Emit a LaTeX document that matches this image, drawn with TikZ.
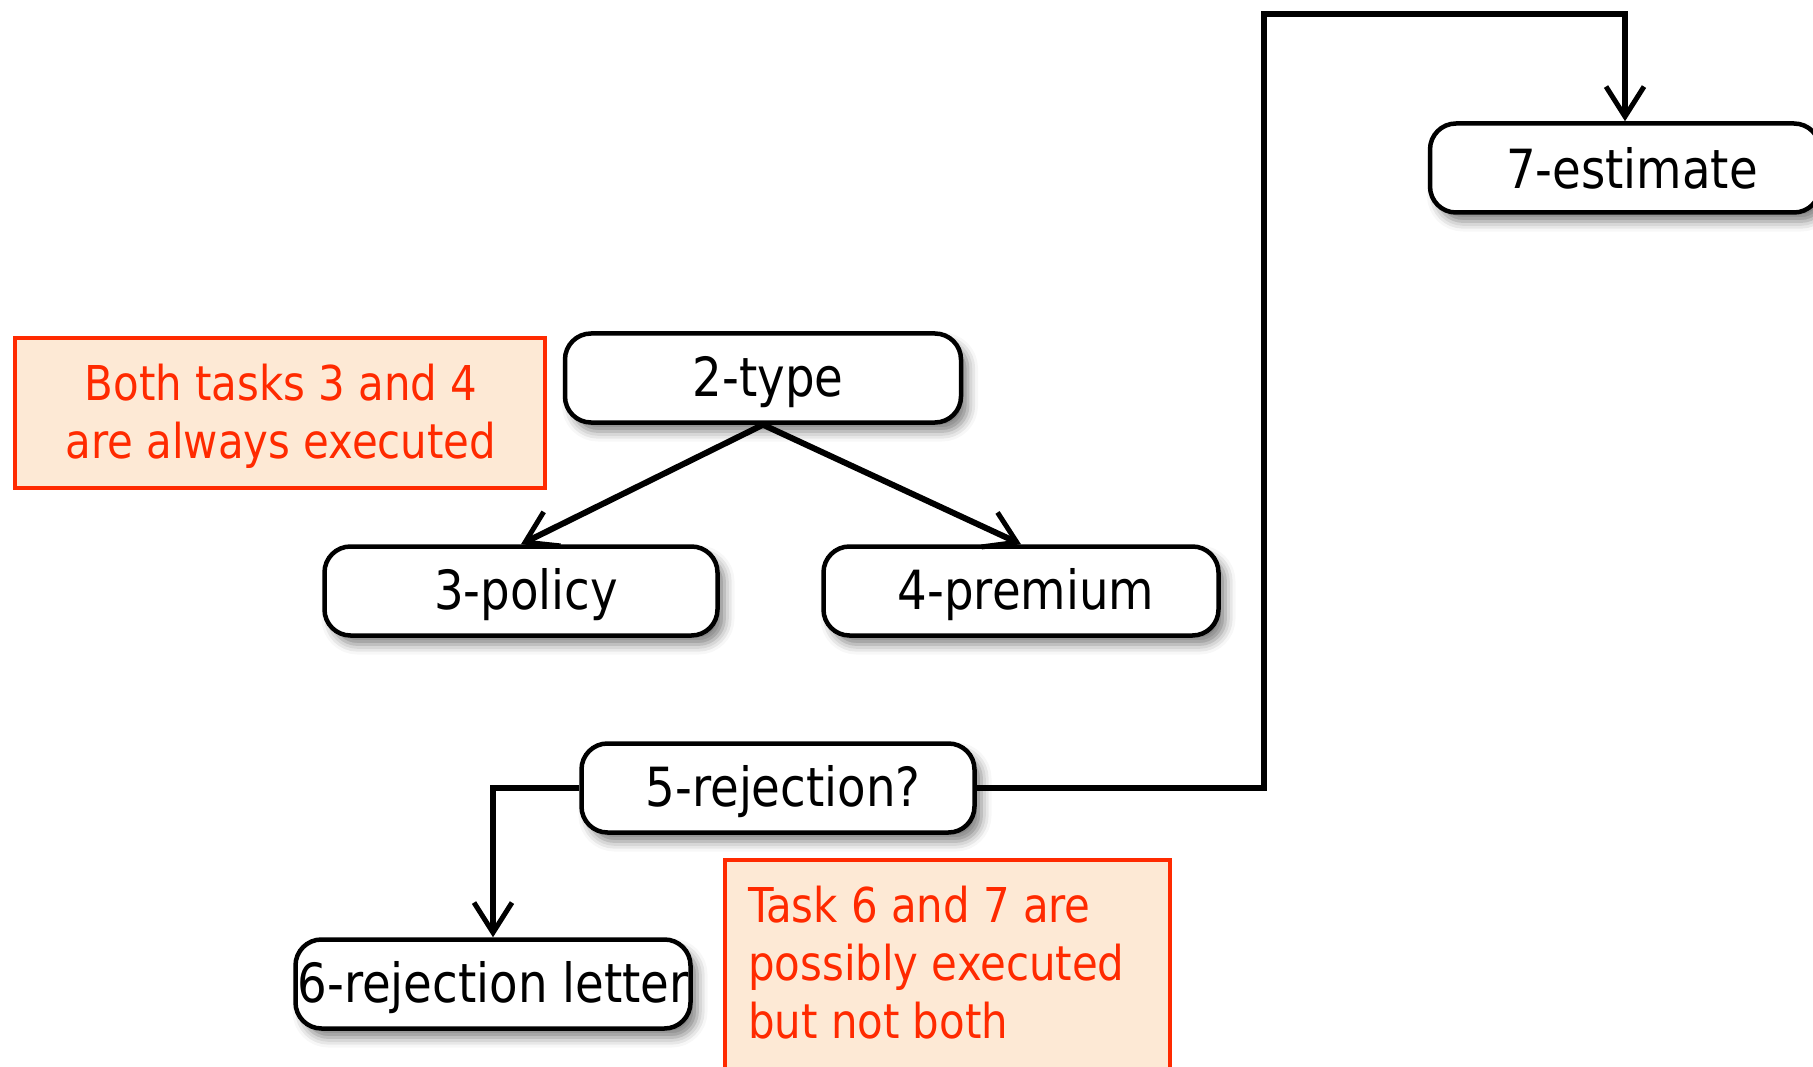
\documentclass[tikz,border=0pt]{standalone}
\usepackage{fontspec}
\setmainfont{DejaVu Sans Condensed}
\newfontfamily\taskfont[FakeStretch=0.96]{DejaVu Sans Condensed}
\newfontfamily\notefont[FakeStretch=0.97]{DejaVu Sans Condensed}
\usetikzlibrary{arrows.meta,shadows.blur}
\definecolor{noteRed}{HTML}{FF2A00}
\definecolor{noteFill}{HTML}{FDE9D5}
\begin{document}
\begin{tikzpicture}[x=1pt,y=-1pt,
  task/.style={draw, line width=4.5pt, rounded corners=26pt, fill=white,
    minimum height=89pt, inner sep=0pt, text height=37pt, text depth=0pt,
    font=\taskfont\fontsize{54}{62}\selectfont,
    blur shadow={shadow xshift=7pt, shadow yshift=-9pt, shadow blur radius=10pt, shadow opacity=50}},
  tasktext/.style={inner sep=0pt, text height=37pt, text depth=0pt, font=\taskfont\fontsize{54}{62}\selectfont},
  note/.style={draw=noteRed, line width=4pt, fill=noteFill, inner sep=0pt},
  notetext/.style={text=noteRed, inner sep=0pt, font=\notefont\fontsize{48}{58}\selectfont},
  conn/.style={line width=6pt, -{Straight Barb[length=30pt,width=38pt,line width=5pt]}}]
\useasboundingbox (0,0) rectangle (1813,1067);

% notes
\node[note, minimum width=530pt, minimum height=150pt] (n1) at (280,413) {};
\node[notetext, align=center] (n1text) at (281,416) {Both tasks 3 and 4\\are always executed};
\node[note, minimum width=445pt, minimum height=220pt] (n2) at (947.5,970) {};
\node[notetext, align=left, anchor=west] (n2text) at (748,963) {Task 6 and 7 are\\possibly executed\\but not both};

% tasks
\node[task, minimum width=396pt] (t2) at (763,378) {\hspace*{10pt}2-type};
\node[task, minimum width=393pt] (t3) at (521,591) {\hspace*{10pt}3-policy};
\node[task, minimum width=395pt] (t4) at (1021,591) {\hspace*{10pt}4-premium};
\node[task, minimum width=393pt] (t5) at (778,788) {\hspace*{10pt}5-rejection?};
\node[task, minimum width=395pt] (t6) at (493,984) {};
\node[tasktext] (t6text) at (t6) {6-rejection letter};
\node[task, minimum width=390pt] (t7) at (1625,168) {};
\node[tasktext] (t7text) at (1632,170) {7-estimate};

\coordinate (c1) at (1264,14);

% connectors
\draw[conn] (t2.south) -- (t3.north);
\draw[conn] (t2.south) -- (t4.north);
\draw[conn] (t5.west) -| (t6.north);
\draw[conn] (t5.east) -| (c1) -| (t7.north);
\end{tikzpicture}
\end{document}
